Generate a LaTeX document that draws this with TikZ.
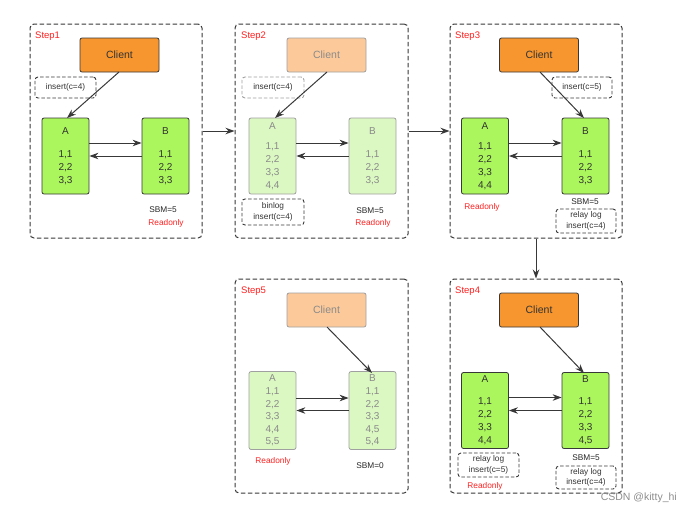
\documentclass[tikz,border=0pt]{standalone}
\usepackage{fontspec}
\setmainfont{Liberation Sans}
\usetikzlibrary{arrows.meta}
\definecolor{orng}{HTML}{F7962E}
\definecolor{orngf}{HTML}{FCCA9A}
\definecolor{grn}{HTML}{AAF65C}
\definecolor{grnf}{HTML}{DBF8C2}
\definecolor{edge}{HTML}{383838}
\definecolor{edgef}{HTML}{A0A0A0}
\definecolor{txtf}{HTML}{8A8A8A}
\definecolor{redt}{HTML}{FF2020}
\tikzset{
  panel/.style={draw=edge, line width=1pt, dash pattern=on 4.5pt off 2.5pt, rounded corners=4pt},
  client/.style={draw=edge, fill=orng, line width=0.8pt, rounded corners=2pt, minimum width=79pt, minimum height=34pt, font=\fontsize{10.5}{12}\selectfont, text=black!80},
  clientf/.style={client, draw=edgef, fill=orngf, text=txtf},
  db/.style={draw=edge, fill=grn, line width=0.8pt, rounded corners=2pt, minimum width=47pt, minimum height=76pt, align=center, font=\fontsize{10}{13}\selectfont, text=black!80},
  dbf/.style={db, draw=edgef, fill=grnf, text=txtf},
  note/.style={draw=edge, line width=0.9pt, dash pattern=on 3.5pt off 2pt, rounded corners=3pt, align=center, font=\fontsize{8.3}{10.5}\selectfont, text=black!80, inner sep=0pt},
  notef/.style={note, draw=edgef},
  small/.style={font=\fontsize{8.3}{9}\selectfont, text=black!85, inner sep=0pt},
  rd/.style={font=\fontsize{8.3}{9}\selectfont, text=redt, inner sep=0pt},
  steplbl/.style={font=\fontsize{9.5}{11}\selectfont, text=redt, inner sep=0pt, anchor=west},
  arr/.style={draw=edge, line width=1pt, -{Stealth[length=9pt,width=6.5pt]}},
}
\begin{document}
\begin{tikzpicture}[x=1pt,y=-1pt]
\useasboundingbox (0,0) rectangle (684,515);
% panels
\node[panel, minimum width=172pt, minimum height=214pt, inner sep=0pt] (P1) at (116,131) {};
\node[panel, minimum width=173pt, minimum height=214pt, inner sep=0pt] (P2) at (321.5,131) {};
\node[panel, minimum width=172pt, minimum height=214pt, inner sep=0pt] (P3) at (536,131) {};
\node[panel, minimum width=173pt, minimum height=214pt, inner sep=0pt] (P5) at (321.5,386) {};
\node[panel, minimum width=172pt, minimum height=214pt, inner sep=0pt] (P4) at (536,386) {};
\draw[arr] (P1.east) -- (P2.west);
\draw[arr] (P2.east) -- (P3.west);
\draw[arr] (P3.south) -- (P4.north);

% ---------- Step1
\node[steplbl] (s1) at (35,36) {Step1};
\node[client] (c1) at (119.5,55) {Client};
\node[db] (a1) at (65.5,156) {A\\[10pt]1,1\\2,2\\3,3};
\node[db] (b1) at (165.5,156) {B\\[10pt]1,1\\2,2\\3,3};
\node[note, minimum width=61pt, minimum height=21pt] (n1) at (65.5,87.5) {insert(c=4)};
\coordinate (c1o) at (119,72);
\coordinate (a1i) at (67,118);
\draw[arr] (c1o) -- (a1i);
\draw[arr] ([yshift=13pt]a1.east) -- ([yshift=13pt]b1.west);
\draw[arr] (b1.west) -- (a1.east);
\node[small] (sbm1) at (163,210) {SBM=5};
\node[rd] (ro1) at (166,223) {Readonly};

% ---------- Step2
\node[steplbl] (s2) at (241,36) {Step2};
\node[clientf] (c2) at (326.5,55) {Client};
\node[dbf] (a2) at (272.5,156) {A\\[7pt]1,1\\2,2\\3,3\\4,4};
\node[dbf] (b2) at (372.5,156) {B\\[10pt]1,1\\2,2\\3,3};
\node[notef, minimum width=62pt, minimum height=21pt] (n2) at (273,87.5) {insert(c=4)};
\coordinate (c2o) at (327,72);
\coordinate (a2i) at (275,118);
\draw[arr] (c2o) -- (a2i);
\draw[arr] ([yshift=13pt]a2.east) -- ([yshift=13pt]b2.west);
\draw[arr] (b2.west) -- (a2.east);
\node[note, minimum width=62pt, minimum height=26pt] (bl2) at (273,212) {binlog\\insert(c=4)};
\node[small] (sbm2) at (370,211) {SBM=5};
\node[rd] (ro2) at (373,223) {Readonly};

% ---------- Step3
\node[steplbl] (s3) at (455,36) {Step3};
\node[client] (c3) at (539,55) {Client};
\node[db] (a3) at (485,156) {A\\[7pt]1,1\\2,2\\3,3\\4,4};
\node[db] (b3) at (585.5,156) {B\\[10pt]1,1\\2,2\\3,3};
\node[note, minimum width=60pt, minimum height=21pt] (n3) at (582,87.5) {insert(c=5)};
\coordinate (c3o) at (540,72);
\coordinate (b3i) at (584,118);
\draw[arr] (c3o) -- (b3i);
\draw[arr] ([yshift=13pt]a3.east) -- ([yshift=13pt]b3.west);
\draw[arr] (b3.west) -- (a3.east);
\node[rd] (ro3) at (482,207) {Readonly};
\node[small] (sbm3) at (585,202) {SBM=5};
\node[note, minimum width=60pt, minimum height=24pt] (rl3) at (586,221) {relay log\\insert(c=4)};

% ---------- Step5
\node[steplbl] (s5) at (241,291) {Step5};
\node[clientf] (c5) at (326.5,310) {Client};
\node[dbf, font=\fontsize{10}{12.6}\selectfont] (a5) at (272.5,410.5) {A\\1,1\\2,2\\3,3\\4,4\\5,5};
\node[dbf, font=\fontsize{10}{12.6}\selectfont] (b5) at (372.5,410.5) {B\\1,1\\2,2\\3,3\\4,5\\5,4};
\coordinate (c5o) at (327,327);
\coordinate (b5i) at (372,373);
\draw[arr] (c5o) -- (b5i);
\draw[arr] ([yshift=12.5pt]a5.east) -- ([yshift=12.5pt]b5.west);
\draw[arr] (b5.west) -- (a5.east);
\node[rd] (ro5) at (273,461) {Readonly};
\node[small] (sbm5) at (370,466) {SBM=0};

% ---------- Step4
\node[steplbl] (s4) at (455,291) {Step4};
\node[client] (c4) at (539,310) {Client};
\node[db] (a4) at (485,410.5) {A\\[9pt]1,1\\2,2\\3,3\\4,4};
\node[db] (b4) at (585.5,410.5) {B\\[9pt]1,1\\2,2\\3,3\\4,5};
\coordinate (c4o) at (540,327);
\coordinate (b4i) at (584,373);
\draw[arr] (c4o) -- (b4i);
\draw[arr] ([yshift=13pt]a4.east) -- ([yshift=13pt]b4.west);
\draw[arr] (b4.west) -- (a4.east);
\node[note, minimum width=61pt, minimum height=24pt] (rl4a) at (488.5,465) {relay log\\insert(c=5)};
\node[rd] (ro4) at (485,486) {Readonly};
\node[small] (sbm4) at (586,458) {SBM=5};
\node[note, minimum width=60pt, minimum height=23pt] (rl4b) at (586,477.5) {relay log\\insert(c=4)};

% watermark
\node[font=\fontsize{10.5}{12}\selectfont, text=black!45, anchor=east, inner sep=0pt] (wm) at (677,498) {CSDN @kitty\_hi};
\end{tikzpicture}
\end{document}
